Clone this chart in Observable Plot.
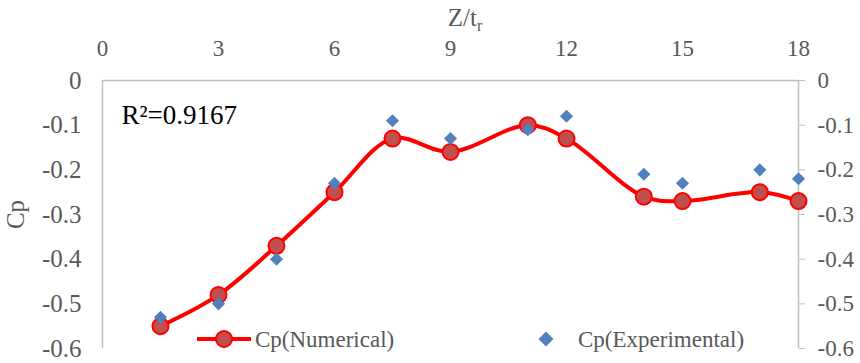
<!DOCTYPE html>
<html><head><meta charset="utf-8">
<script src="https://cdn.jsdelivr.net/npm/d3@7"></script>
<script src="https://cdn.jsdelivr.net/npm/@observablehq/plot@0.6"></script>
<style>
body{margin:0;background:#fff}
#wrap{position:relative;width:860px;height:363px;overflow:hidden;font-family:"Liberation Serif",serif}
.leg{position:absolute;font-family:"Liberation Serif",serif;font-size:23px;color:#595959;display:flex;align-items:center;white-space:nowrap;line-height:1}
</style></head><body><div id="wrap"></div>
<script>
// Data
const zNum = [1.5, 3, 4.5, 6, 7.5, 9, 11, 12, 14, 15, 17, 18];
const cpNum = [-0.55, -0.48, -0.37, -0.25, -0.13, -0.16, -0.10, -0.13, -0.26, -0.27, -0.25, -0.27];
const zExp = [1.5, 3, 4.5, 6, 7.5, 9, 11, 12, 14, 15, 17, 18];
const cpExp = [-0.53, -0.50, -0.40, -0.23, -0.09, -0.13, -0.11, -0.08, -0.21, -0.23, -0.20, -0.22];
const xTicks = [0, 3, 6, 9, 12, 15, 18];
const yTicks = [-0.6, -0.5, -0.4, -0.3, -0.2, -0.1, 0];
const seriesNames = ["Cp(Numerical)", "Cp(Experimental)"];
const r2Text = "R²=0.9167";
const yTitle = "Cp";

const FONT = "Liberation Serif";
const numData = zNum.map((z, i) => ({z, cp: cpNum[i]}));
const expData = zExp.map((z, i) => ({z, cp: cpExp[i]}));
const fmt = d => d === 0 ? "0" : d.toFixed(1);
const axisGray = "#BFBFBF";
const textGray = "#595959";

const chart = Plot.plot({
  width: 860,
  height: 363,
  marginLeft: 102,
  marginRight: 62,
  marginTop: 80,
  marginBottom: 15,
  style: {fontFamily: FONT, fontSize: "23px", color: textGray, background: "#fff"},
  x: {domain: [0, 18]},
  y: {domain: [-0.6, 0]},
  marks: [
    Plot.ruleY([0], {stroke: axisGray, strokeWidth: 1.5}),
    Plot.ruleX([0], {stroke: axisGray, strokeWidth: 1.5}),
    Plot.ruleX([18], {stroke: axisGray, strokeWidth: 1.5}),
    Plot.axisX(xTicks, {anchor: "top", tickSize: 0, tickPadding: 25, label: null, fill: textGray}),
    Plot.axisY(yTicks, {anchor: "left", tickSize: 0, tickPadding: 21, tickFormat: fmt, fill: textGray,
      label: yTitle, labelAnchor: "center", labelOffset: 96, labelArrow: "none", fontSize: 25}),
    Plot.axisY(yTicks, {anchor: "right", tickSize: 6, tickPadding: 13, tickFormat: fmt, stroke: axisGray, fill: textGray, label: null}),
    Plot.text([r2Text], {frameAnchor: "top-left", dx: 19, dy: 24, textAnchor: "start", fill: "#000", fontSize: 27}),
    Plot.line(numData, {x: "z", y: "cp", curve: "catmull-rom", stroke: "#FF0000", strokeWidth: 4}),
    Plot.dot(numData, {x: "z", y: "cp", r: 8, fill: "#C0504D", stroke: "#FF0000", strokeWidth: 2}),
    Plot.dot(expData, {x: "z", y: "cp", symbol: "diamond2", r: 5.9, fill: "#4F81BD", stroke: "none"})
  ]
});

const wrap = document.getElementById("wrap");
wrap.appendChild(chart);

// x axis title with subscript
const svg = d3.select(chart);
const t = svg.append("text")
  .attr("x", 465).attr("y", 26)
  .attr("text-anchor", "middle")
  .attr("fill", textGray)
  .style("font-family", FONT).style("font-size", "25px");
t.append("tspan").text("Z/t");
t.append("tspan").attr("dy", 5).style("font-size", "16px").text("r");

// legend (HTML overlay)
const leg1 = document.createElement("div");
leg1.className = "leg";
leg1.style.left = "196px"; leg1.style.top = "327px";
leg1.innerHTML = `<svg width="56" height="24" style="margin-right:3px"><line x1="1" x2="55" y1="12" y2="12" stroke="#FF0000" stroke-width="4"/><circle cx="28" cy="12" r="8" fill="#C0504D" stroke="#FF0000" stroke-width="2"/></svg><span>${seriesNames[0]}</span>`;
wrap.appendChild(leg1);
const leg2 = document.createElement("div");
leg2.className = "leg";
leg2.style.left = "538px"; leg2.style.top = "327px";
leg2.innerHTML = `<svg width="16" height="24" style="margin-right:24px"><path d="M8,4.5 L15.5,12 L8,19.5 L0.5,12 Z" fill="#4F81BD"/></svg><span>${seriesNames[1]}</span>`;
wrap.appendChild(leg2);
</script>
</body></html>
